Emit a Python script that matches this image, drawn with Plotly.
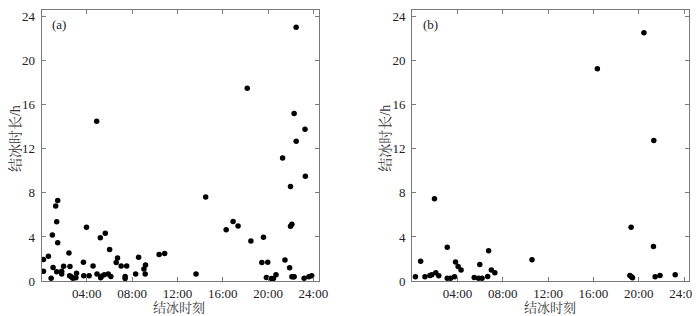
import plotly.graph_objects as go

# Panel (a)
a_hour = [0.17, 0.17, 0.61, 0.85, 0.96, 1.02, 1.25, 1.43, 1.34, 1.43, 1.34, 1.78, 1.78, 1.95,
          2.42, 2.51, 2.48, 2.62, 2.77, 3.03, 3.09, 3.70, 3.73, 3.97, 4.20, 4.55, 4.87, 4.90,
          5.19, 5.22, 5.30, 5.54, 5.63, 5.89, 6.01, 6.12, 6.59, 6.71, 7.03, 7.38, 7.38, 7.52,
          8.31, 8.57, 9.04, 9.15, 9.18, 10.38, 10.87, 13.64, 14.49, 16.30, 16.91, 17.35, 18.16,
          18.48, 19.45, 19.59, 19.85, 19.97, 20.29, 20.47, 20.70, 21.28, 21.49, 21.90, 21.98,
          21.98, 22.10, 22.10, 22.24, 22.30, 22.30, 22.48, 22.48, 23.18, 23.26, 23.29, 23.60, 23.85]
a_dur = [1.96, 0.88, 2.25, 0.26, 4.18, 1.23, 6.81, 7.31, 5.38, 3.48, 0.85, 0.88, 0.64, 1.35,
         2.54, 1.32, 0.47, 0.38, 0.26, 0.29, 0.70, 1.70, 0.47, 4.88, 0.47, 1.37, 14.5, 0.64,
         3.92, 0.29, 0.44, 0.56, 4.33, 0.64, 2.87, 0.41, 1.67, 2.08, 1.37, 0.41, 0.23, 1.37,
         0.64, 2.16, 1.08, 0.64, 1.46, 2.40, 2.49, 0.64, 7.63, 4.65, 5.41, 5.00, 17.5,
         3.63, 1.67, 3.98, 0.32, 1.70, 0.23, 0.23, 0.56, 11.17, 1.90, 1.20, 8.57,
         4.97, 5.15, 0.38, 0.38, 15.2, 0.38, 23.04, 12.69, 0.26, 13.77, 9.50, 0.38, 0.47]

# Panel (b)
b_hour = [0.29, 0.75, 1.13, 1.57, 1.74, 1.97, 2.09, 2.35, 3.10, 3.10, 3.39, 3.74, 3.83, 4.06,
          4.32, 5.48, 5.86, 5.97, 6.17, 6.67, 6.75, 6.99, 7.30, 10.58, 16.35, 19.22, 19.36,
          19.33, 19.45, 20.46, 21.33, 21.30, 21.45, 21.88, 23.22]
b_dur = [0.38, 1.80, 0.38, 0.50, 0.56, 7.46, 0.76, 0.47, 3.07, 0.26, 0.26, 0.38, 1.72, 1.32,
         1.00, 0.32, 0.26, 1.49, 0.26, 0.41, 2.75, 1.00, 0.76, 1.93, 19.27, 0.50, 0.38,
         4.88, 0.29, 22.54, 12.75, 3.13, 0.38, 0.50, 0.56]

x_tickvals = [4, 8, 12, 16, 20, 24]
x_ticktext = ["04:00", "08:00", "12:00", "16:00", "20:00", "24:00"]
y_tickvals = [0, 4, 8, 12, 16, 20, 24]
panel_labels = ["(a)", "(b)"]
x_title = "结冰时刻"
y_title = "结冰时长/h"

W, H = 700, 316
serif = "Liberation Serif, Times New Roman, serif"
cjk = "Liberation Serif, Noto Serif CJK SC, Noto Sans CJK SC, serif"
axis_color = "#7a7a7a"

fig = go.Figure()
fig.add_trace(go.Scatter(x=a_hour, y=a_dur, mode="markers", xaxis="x", yaxis="y",
                         marker=dict(color="black", size=5.5), showlegend=False))
fig.add_trace(go.Scatter(x=b_hour, y=b_dur, mode="markers", xaxis="x2", yaxis="y2",
                         marker=dict(color="black", size=5.5), showlegend=False))

px_dom = [(34, 315), (410, 691)]
y_top, y_bot = 1, 280
ydom = [(H - y_bot) / H, (H - y_top) / H]

common_x = dict(range=[0, 24.45], tickvals=x_tickvals, ticktext=x_ticktext,
                ticks="inside", ticklen=4, tickcolor=axis_color, showline=True,
                linecolor=axis_color, linewidth=1, mirror="ticks", showgrid=False,
                zeroline=False, tickfont=dict(family=serif, size=13, color="#222"))
common_y = dict(range=[0, 24.6], tickvals=y_tickvals,
                ticks="inside", ticklen=4, tickcolor=axis_color, showline=True,
                linecolor=axis_color, linewidth=1, mirror="ticks", showgrid=False,
                zeroline=False, tickfont=dict(family=serif, size=13, color="#222"),
                ticklabelstandoff=3)

fig.update_layout(
    width=W, height=H, margin=dict(l=0, r=0, t=0, b=0),
    paper_bgcolor="white", plot_bgcolor="white",
    xaxis=dict(domain=[px_dom[0][0] / W, px_dom[0][1] / W], anchor="y", **common_x),
    yaxis=dict(domain=ydom, anchor="x", **common_y),
    xaxis2=dict(domain=[px_dom[1][0] / W, px_dom[1][1] / W], anchor="y2", **common_x),
    yaxis2=dict(domain=ydom, anchor="x2", **common_y),
)

annotations = []
for i, (l, r) in enumerate(px_dom):
    cx = (l + r) / 2
    annotations.append(dict(text=x_title, x=(cx - 1) / W, y=(H - 307.5) / H, xref="paper", yref="paper",
                            showarrow=False, xanchor="center", yanchor="middle",
                            font=dict(family=cjk, size=13, color="#333")))
    annotations.append(dict(text=y_title, x=(l - 27) / W, y=(H - 133) / H, xref="paper", yref="paper",
                            showarrow=False, xanchor="center", yanchor="middle", textangle=-90,
                            font=dict(family=cjk, size=14, color="#333")))
    annotations.append(dict(text=panel_labels[i], x=(l + 9) / W, y=(H - 16) / H, xref="paper", yref="paper",
                            showarrow=False, xanchor="left", yanchor="middle",
                            font=dict(family=serif, size=13, color="#222")))
fig.update_layout(annotations=annotations)

fig.write_html("out.html")
